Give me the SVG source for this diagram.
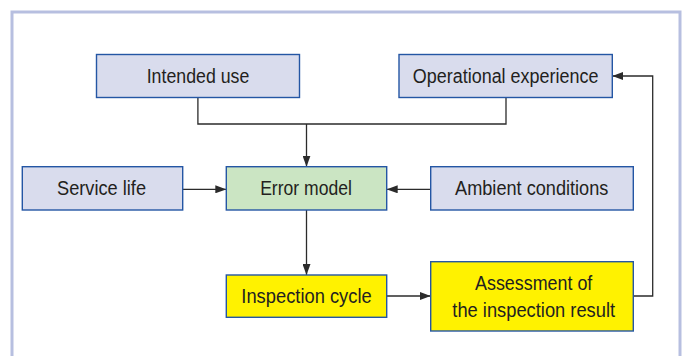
<svg xmlns="http://www.w3.org/2000/svg" width="685" height="356" viewBox="0 0 685 356">
<defs>
<style>
.frame{fill:none;stroke:#b7bfe0;stroke-width:3}
.box{stroke:#2456a4;stroke-width:1.4}
.blue{fill:#d9dced}
.green{fill:#cbe5c3}
.yellow{fill:#fff200}
.lbl{font-family:"Liberation Sans",Arial,sans-serif;font-size:20px;fill:#231f20;text-anchor:middle}
.con{fill:none;stroke:#2b2b2b;stroke-width:1.3}
</style>
<marker id="ah" viewBox="0 0 11 8" refX="11" refY="4" markerWidth="11" markerHeight="8" markerUnits="userSpaceOnUse" orient="auto">
<path d="M0,0 L11,4 L0,8 z" fill="#2b2b2b"/>
</marker>
</defs>
<rect width="685" height="356" fill="#ffffff"/>
<rect class="frame" x="12" y="12" width="668" height="360"/>
<g id="connectors">
<path class="con" d="M197.9,97.3 V124 H506 V97.3"/>
<path class="con" d="M306.5,124 V166.7" marker-end="url(#ah)"/>
<path class="con" d="M182.7,189.3 H226.3" marker-end="url(#ah)"/>
<path class="con" d="M430.7,189.3 H386.7" marker-end="url(#ah)"/>
<path class="con" d="M306.5,210 V275" marker-end="url(#ah)"/>
<path class="con" d="M386.7,296 H430.7" marker-end="url(#ah)"/>
<path class="con" d="M633.3,296 H652.7 V76 H612.3" marker-end="url(#ah)"/>
</g>
<g id="intended-use">
<rect class="box blue" x="96.5" y="54.5" width="203" height="43"/>
<text class="lbl" x="198" y="82.5" textLength="102.6" lengthAdjust="spacingAndGlyphs">Intended use</text>
</g>
<g id="operational-experience">
<rect class="box blue" x="399" y="54.5" width="213.3" height="43"/>
<text class="lbl" x="505.6" y="82.5" textLength="185.6" lengthAdjust="spacingAndGlyphs">Operational experience</text>
</g>
<g id="service-life">
<rect class="box blue" x="22.3" y="166.7" width="160.4" height="43.3"/>
<text class="lbl" x="101.5" y="195.3" textLength="89" lengthAdjust="spacingAndGlyphs">Service life</text>
</g>
<g id="error-model">
<rect class="box green" x="226.3" y="166.7" width="160.4" height="43.3"/>
<text class="lbl" x="306" y="195.3" textLength="91.7" lengthAdjust="spacingAndGlyphs">Error model</text>
</g>
<g id="ambient-conditions">
<rect class="box blue" x="430.7" y="166.7" width="202.6" height="43.3"/>
<text class="lbl" x="531.7" y="195.3" textLength="153.3" lengthAdjust="spacingAndGlyphs">Ambient conditions</text>
</g>
<g id="inspection-cycle">
<rect class="box yellow" x="226.3" y="275" width="160.4" height="42.3"/>
<text class="lbl" x="306.5" y="303.3" textLength="130.4" lengthAdjust="spacingAndGlyphs">Inspection cycle</text>
</g>
<g id="assessment">
<rect class="box yellow" x="430.7" y="261.7" width="202.6" height="69.3"/>
<text class="lbl" x="533.7" y="290" textLength="117.3" lengthAdjust="spacingAndGlyphs">Assessment of</text>
<text class="lbl" x="533.7" y="316.7" textLength="162.7" lengthAdjust="spacingAndGlyphs">the inspection result</text>
</g>
</svg>
